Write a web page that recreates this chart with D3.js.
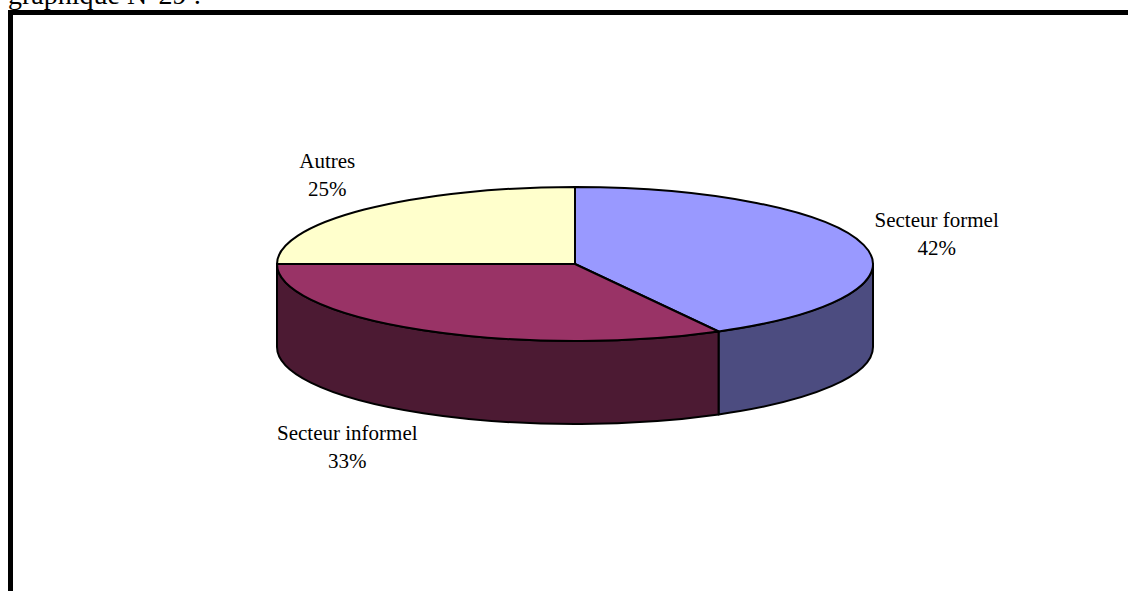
<!DOCTYPE html>
<html>
<head>
<meta charset="utf-8">
<script src="https://cdn.jsdelivr.net/npm/d3@7"></script>
<style>
  html, body { margin: 0; padding: 0; background: #fff; }
  svg { display: block; }
  text { font-family: "Liberation Serif", "Times New Roman", serif; fill: #000; }
</style>
</head>
<body>
<svg id="chart" width="1128" height="591"></svg>
<script>
// Répartition par secteur
const categories = ["Secteur formel", "Secteur informel", "Autres"];
const values = [42, 33, 25];
const topColors = ["#9999FF", "#993366", "#FFFFCC"];
const sideColors = ["#4C4C80", "#4C1A33", "#80805F"];
const title = "graphique N°29 :";

const W = 1128, H = 591;
const svg = d3.select("#chart");

// page heading and frame
svg.append("text")
  .attr("x", 8).attr("y", 4)
  .style("font-size", "28px")
  .text(title);
svg.append("path")
  .attr("d", `M10.5,${H + 5} L10.5,12.5 L${W + 5},12.5`)
  .attr("fill", "none").attr("stroke", "#000").attr("stroke-width", 5);

// 3D pie geometry
const cx = 575, cy = 264, rx = 298, ry = 77, depth = 83;
const TAU = Math.PI * 2;

const pie = d3.pie().sort(null).value(d => d.v)
  .startAngle(0).endAngle(TAU);
const data = categories.map((c, i) => ({ c, v: values[i], i }));
const arcs = pie(data);

const topFill = d3.scaleOrdinal().domain(categories).range(topColors);
const sideFill = d3.scaleOrdinal().domain(categories).range(sideColors);

// angle measured clockwise from 12 o'clock
const pt = (a, dy = 0) => [cx + rx * Math.sin(a), cy - ry * Math.cos(a) + dy];

function topPath(a0, a1) {
  const p0 = pt(a0), p1 = pt(a1);
  const large = (a1 - a0) > Math.PI ? 1 : 0;
  return `M${cx},${cy} L${p0[0]},${p0[1]} A${rx},${ry} 0 ${large} 1 ${p1[0]},${p1[1]} Z`;
}

function sidePath(a0, a1) {
  // only the front half of the rim is visible
  const s = Math.max(a0, Math.PI / 2), e = Math.min(a1, Math.PI * 1.5);
  if (e <= s) return null;
  const p0 = pt(s), p1 = pt(e), q1 = pt(e, depth), q0 = pt(s, depth);
  return `M${p0[0]},${p0[1]} A${rx},${ry} 0 0 1 ${p1[0]},${p1[1]} ` +
         `L${q1[0]},${q1[1]} A${rx},${ry} 0 0 0 ${q0[0]},${q0[1]} Z`;
}

const g = svg.append("g");

g.selectAll("path.side")
  .data(arcs.filter(d => sidePath(d.startAngle, d.endAngle)))
  .join("path")
  .attr("class", "side")
  .attr("d", d => sidePath(d.startAngle, d.endAngle))
  .attr("fill", d => sideFill(d.data.c))
  .attr("stroke", "#000").attr("stroke-width", 2).attr("stroke-linejoin", "round");

g.selectAll("path.top")
  .data(arcs)
  .join("path")
  .attr("class", "top")
  .attr("d", d => topPath(d.startAngle, d.endAngle))
  .attr("fill", d => topFill(d.data.c))
  .attr("stroke", "#000").attr("stroke-width", 2).attr("stroke-linejoin", "round");

// data labels placed outside each slice
const labelOffset = {
  "Secteur formel": [73, -4],
  "Secteur informel": [-76, 41],
  "Autres": [-37, -28]
};
const fmt = d => Math.round(d.value / d3.sum(values) * 100) + "%";

const labels = svg.selectAll("g.lbl")
  .data(arcs)
  .join("g")
  .attr("class", "lbl")
  .attr("transform", d => {
    const m = (d.startAngle + d.endAngle) / 2;
    const below = Math.cos(m) < 0 ? depth : 0;
    const p = pt(m, below);
    const o = labelOffset[d.data.c];
    return `translate(${p[0] + o[0]},${p[1] + o[1]})`;
  });

labels.append("text")
  .attr("text-anchor", "middle")
  .attr("y", -14)
  .style("font-size", "21px")
  .text(d => d.data.c);
labels.append("text")
  .attr("text-anchor", "middle")
  .attr("y", 14)
  .style("font-size", "21px")
  .text(d => fmt(d));
</script>
</body>
</html>
